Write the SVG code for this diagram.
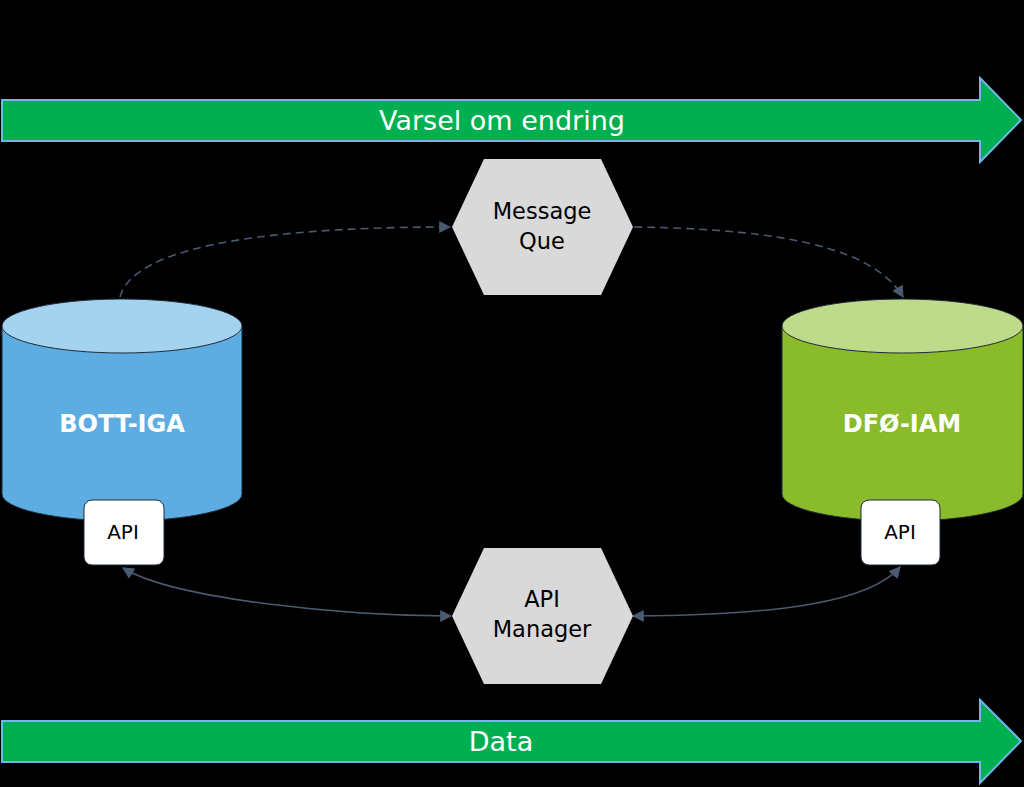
<svg xmlns="http://www.w3.org/2000/svg" width="1024" height="787" viewBox="0 0 1024 787">
<style>
.band{fill:#00B050;stroke:#6FB7E6;stroke-width:2}
.bandtxt{font-family:"DejaVu Sans",Verdana,sans-serif;font-size:27px;fill:#FFFFFF;text-anchor:middle}
.hex{fill:#D9D9D9}
.hextxt{font-family:"DejaVu Sans",Verdana,sans-serif;font-size:22.5px;fill:#000000;text-anchor:middle}
.dbtxt{font-family:"DejaVu Sans",Verdana,sans-serif;font-size:24px;font-weight:bold;fill:#FFFFFF;text-anchor:middle}
.api{fill:#FFFFFF;stroke:#1F2A3A;stroke-width:1}
.apitxt{font-family:"DejaVu Sans",Verdana,sans-serif;font-size:20px;fill:#000000;text-anchor:middle}
.conn{fill:none;stroke:#4A5A70;stroke-width:1.6}
.dash{stroke-dasharray:8 5}
.outline{stroke:#1F2A3A;stroke-width:1}
</style>
<defs>
<marker id="ahl" viewBox="0 0 10 10" refX="9" refY="5" markerWidth="12" markerHeight="12" orient="auto-start-reverse" markerUnits="userSpaceOnUse">
<path d="M0,0 L10,5 L0,10 z" fill="#4A5A70"/>
</marker>
</defs>
<rect x="0" y="0" width="1024" height="787" fill="#000000"/>

<g id="band-varsel">
<path class="band" d="M2,100 L980,100 L980,78 L1021,120 L980,162 L980,141 L2,141 Z"/>
<text class="bandtxt" x="502" y="130">Varsel om endring</text>
</g>

<g id="band-data">
<path class="band" d="M2,721 L980,721 L980,700 L1021,741 L980,783 L980,762 L2,762 Z"/>
<text class="bandtxt" x="501" y="751">Data</text>
</g>

<g id="connectors">
<path class="conn dash" d="M120,297 C135,240 300,227 450,227" marker-end="url(#ahl)"/>
<path class="conn dash" d="M634,227 C790,229 875,250 903,297" marker-end="url(#ahl)"/>
<path class="conn" d="M123,568 C175,600 350,616 451,616" marker-start="url(#ahl)" marker-end="url(#ahl)"/>
<path class="conn" d="M633,616 C780,615 870,602 900,567" marker-start="url(#ahl)" marker-end="url(#ahl)"/>
</g>

<g id="node-message-que">
<polygon class="hex" points="452,227 484,159 601,159 633,227 601,295 484,295"/>
<text class="hextxt" x="542" y="219">Message</text>
<text class="hextxt" x="542" y="249">Que</text>
</g>

<g id="node-api-manager">
<polygon class="hex" points="452,616 484,548 601,548 633,616 601,684 484,684"/>
<text class="hextxt" x="542" y="607">API</text>
<text class="hextxt" x="542" y="637">Manager</text>
</g>

<g id="node-bott-iga">
<path class="outline" d="M2,326 L2,494 A120,27 0 0 0 242,494 L242,326 Z" fill="#5DADE2"/>
<ellipse class="outline" cx="122" cy="326" rx="120" ry="27" fill="#A4D3F0"/>
<text class="dbtxt" x="122" y="432">BOTT-IGA</text>
</g>
<g id="node-bott-api">
<rect class="api" x="84" y="500" width="80" height="65" rx="8"/>
<text class="apitxt" x="123" y="539">API</text>
</g>

<g id="node-dfo-iam">
<path class="outline" d="M782,326 L782,494 A120.5,27 0 0 0 1023,494 L1023,326 Z" fill="#8ABB2A"/>
<ellipse class="outline" cx="902.5" cy="326" rx="120.5" ry="27" fill="#BEDB8C"/>
<text class="dbtxt" x="902" y="432">DFØ-IAM</text>
</g>
<g id="node-dfo-api">
<rect class="api" x="861" y="500" width="79" height="65" rx="8"/>
<text class="apitxt" x="900" y="539">API</text>
</g>
</svg>
